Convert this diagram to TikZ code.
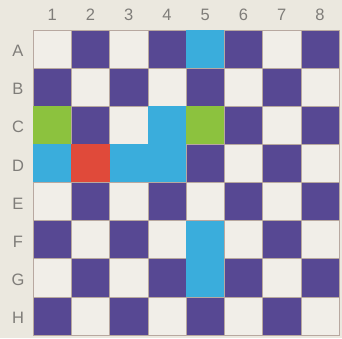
\documentclass[tikz,border=0pt]{standalone}
\usepackage{fontspec}
\setmainfont{Liberation Sans}
\definecolor{paper}{HTML}{EBE8DF}
\definecolor{lightsq}{HTML}{F1EEE8}
\definecolor{darksq}{HTML}{574893}
\definecolor{cyansq}{HTML}{3AADDC}
\definecolor{greensq}{HTML}{8CC23E}
\definecolor{redsq}{HTML}{E04A3A}
\definecolor{labelgray}{HTML}{7F7D79}
\definecolor{gridline}{HTML}{B8A8A0}
\begin{document}
\begin{tikzpicture}[x=1pt,y=-1pt,
  cell/.style={draw=gridline,line width=0.4pt,minimum width=38.25pt,minimum height=38.1pt,inner sep=0pt,outer sep=0pt,anchor=north west},
  lbl/.style={text=labelgray,font=\fontsize{16.5}{16.5}\selectfont,inner sep=0pt}]
\fill[paper] (0,0) rectangle (342,338);
\useasboundingbox (0,0) rectangle (342,338);
\foreach \r [count=\i] in {A,B,C,D,E,F,G,H}{
  \foreach \c in {1,...,8}{
    \pgfmathtruncatemacro{\myparity}{mod(\i+\c,2)}
    \ifnum\myparity=0 \def\col{lightsq}\else\def\col{darksq}\fi
    \node[cell,fill=\col] (sq-\r\c) at ({33+38.25*(\c-1)},{30+38.1*(\i-1)}) {};
  }
  \node[lbl] (row-\r) at (18,{30+38.1*(\i-0.5)+2}) {\r};
}
\foreach \c in {1,...,8}{
  \node[lbl] (col-\c) at ({33+38.25*(\c-0.5)},15) {\c};
}
% highlighted squares
\foreach \s in {A5,C4,D1,D3,D4,F5,G5}{
  \node[cell,draw=none,fill=cyansq] (hl-\s) at (sq-\s.north west) {};
}
\foreach \s in {C1,C5}{
  \node[cell,draw=none,fill=greensq] (hl-\s) at (sq-\s.north west) {};
}
\node[cell,draw=none,fill=redsq] (hl-D2) at (sq-D2.north west) {};
\end{tikzpicture}
\end{document}
